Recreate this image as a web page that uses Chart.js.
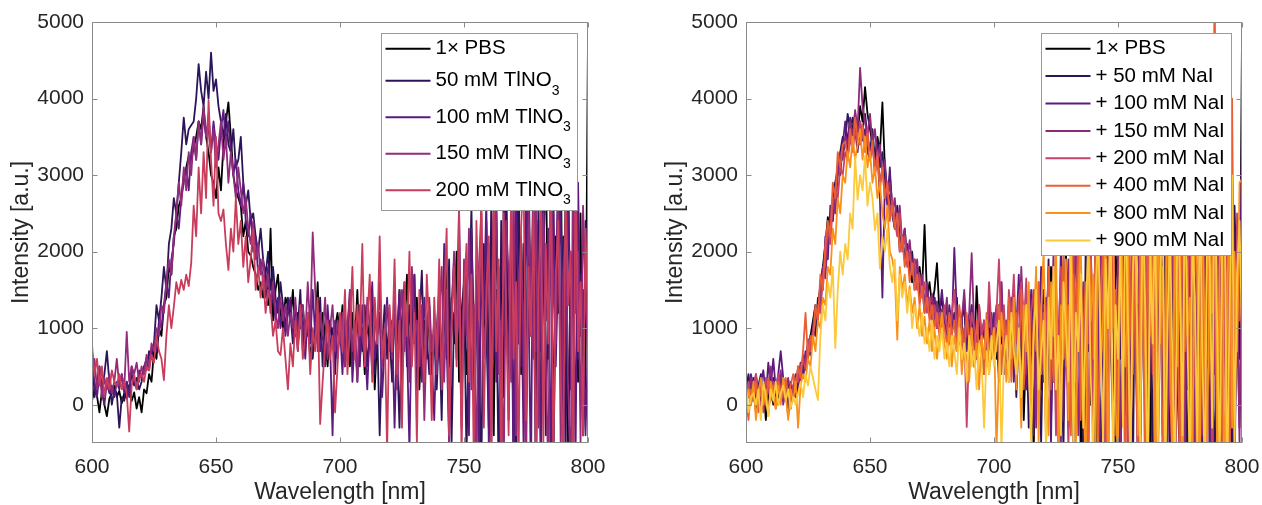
<!DOCTYPE html>
<html>
<head>
<meta charset="utf-8">
<script src="https://cdn.jsdelivr.net/npm/chart.js@4.4.0/dist/chart.umd.min.js"></script>
<style>
  html, body { margin: 0; padding: 0; background: #fff; }
  #wrap { position: relative; width: 1262px; height: 505px; }
  canvas { position: absolute; top: 0; }
  #left { left: 0; }
  #right { left: 631px; }
</style>
</head>
<body>
<div id="wrap">
  <canvas id="left" width="631" height="505"></canvas>
  <canvas id="right" width="631" height="505"></canvas>
</div>
<script>
// wavelength grid (nm), one sample per nm
const wlStart = 600;
const wlStep = 1;
const xTicks = [600, 650, 700, 750, 800];
const yTicks = [0, 1000, 2000, 3000, 4000, 5000];

const leftNames = ['1\u00d7 PBS', '50 mM TlNO_3', '100 mM TlNO_3', '150 mM TlNO_3', '200 mM TlNO_3'];
const leftColors = ['#000000', '#2b1457', '#5c1a7c', '#922b7a', '#c83d5c'];

const rightNames = ['1\u00d7 PBS', '+ 50 mM NaI', '+ 100 mM NaI', '+ 150 mM NaI', '+ 200 mM NaI',
  '+ 400 mM NaI', '+ 800 mM NaI', '+ 900 mM NaI'];
const rightColors = ['#000000', '#2b1457', '#5c1a7c', '#8c2a7a', '#c54268', '#e85e35', '#f8901a', '#fbc93a'];

// left panel: TlNO3
const pbsL = [
  50, 200, 120, -100, 180, 0, -150, 80, 150, 250, 100, 180, 20, 150, 80, 250, 50, 160, -50, 100,
  -100, 200, 150, 400, 300, 700, 600, 1000, 900, 1300, 1400, 1800, 1700, 2200, 2300, 2600, 2700, 3000, 3100, 3250,
  3200, 3350, 3500, 3700, 3600, 3900, 3500, 3300, 3000, 2900, 2700, 3100, 2800, 3400, 3700, 3950, 3500, 3000, 2800, 2700,
  2600, 2200, 2400, 2000, 1950, 1800, 1700, 1500, 1600, 1400, 1700, 1300, 2300, 1100, 1500, 1700, 1200, 1000, 1400, 1300,
  1100, 1500, 900, 1200, 1000, 1300, 800, 1100, 600, 900, 1000, 1600, 700, 1200, 900, 500, 1100, 800, 1000, 1200,
  900, 1300, 700, 1100, 500, 1200, 800, 1500, 600, 1000, 400, 1100, 800, 1300, 200, 900, 1200, 600, 1000, 700,
  1100, 400, 1300, 800, 1500, 300, 1000, 1700, 500, 1200, 800, 1400, 200, 900, 1100, 600, 1300, 400, 1000, 700,
  1300, 200, 1100, 1800, 500, 1400, 800, 2000, 300, 1200, 1600, 400, 1000, 2200, 600, 1400, -200, 1800, 900, 2400,
  500, 1600, -400, 2600, 800, 1900, 100, 2800, 700, 2300, -600, 1700, 3000, 400, 2100, -300, 2600, 900, 3100, 200,
  2400, -800, 1900, 3300, 600, 2700, -500, 2200, 1200, 3400, 100, 2900, -700, 2000, 1500, 3200, 300, 2500, -400, 400,
  4800
];
const tl50 = [
  800, 100, 300, 500, 200, 400, 700, 300, 0, 200, 150, -300, 100, 50, 300, 200, 400, 250, 350, 200,
  300, 500, 450, 700, 600, 800, 1300, 1100, 1400, 1800, 1500, 2100, 2300, 2700, 2500, 2900, 3300, 3750, 3400, 3600,
  3650, 3700, 4000, 4450, 4100, 3900, 4350, 4000, 4600, 4100, 4250, 3900, 3700, 3500, 3800, 3400, 3300, 3600, 3100, 3200,
  3500, 2900, 2600, 2800, 2400, 2500, 2200, 2000, 2300, 1900, 1700, 2000, 1500, 1800, 1400, 1200, 1600, 1300, 1000, 1400,
  1200, 800, 1300, 1000, 1500, 700, 1100, 900, 1300, 600, 1000, 800, 1400, 500, 900, 1200, 700, 1000, 400, 1100,
  800, 1200, 500, 1000, 1400, 600, 900, 300, 1100, 700, 1300, 500, 900, 1200, 400, 1000, -400, 800, 1300, 600,
  1000, 300, 1200, 700, -300, 1100, 1600, 500, 1300, 800, 1700, 200, 1100, 1750, 600, 900, 400, 900, 850, 200,
  1000, -200, 1400, 600, 1900, -500, 1200, 800, 2300, 300, 1600, -700, 1100, 2600, 200, 1800, 700, -900, 2100, 1000,
  -300, 2700, 600, 1500, -1000, 2400, 900, 3000, -200, 1700, 2200, -800, 2900, 500, 1300, -500, 3200, 1000, 2000, -1200,
  2600, 700, 3400, -400, 1800, 2500, -900, 1400, 3100, 400, 2200, -600, 2800, 1100, -1100, 3300, 600, 1700, -300, 2400,
  1900
];
const tl100 = [
  500, 300, 100, 400, 200, 0, 300, 150, 250, 100, 300, 200, 400, 150, 300, 100, 500, 350, 200, 450,
  350, 500, 600, 450, 700, 800, 700, 1100, 1000, 1300, 1600, 1400, 1900, 2100, 2500, 2300, 2700, 2900, 3100, 2800,
  3300, 3500, 3200, 3700, 3400, 3800, 3500, 3600, 3300, 3700, 3400, 3200, 3600, 3850, 3400, 3700, 3300, 3000, 3200, 2800,
  2600, 2900, 2400, 2200, 2500, 2000, 2200, 1700, 1900, 1600, 1400, 1800, 1200, 1500, 1100, 1400, 1000, 1300, 900, 1200,
  1400, 900, 1100, 700, 1300, 1000, 600, 1200, 800, 1500, 900, 1200, 700, 1000, 500, 1300, 800, -400, 1100, 600,
  1000, 400, 1200, 700, 1500, 300, 900, 1100, 500, 1300, 800, 200, 1000, 1600, 600, 900, 1200, 100, 800, 1400,
  700, 1100, -300, 900, 1500, 400, 1200, 800, -600, 1300, 1700, 500, 1000, 300, 1400, 900, 1200, 600, -200, 1000,
  1500, 400, 2100, 800, -500, 1300, 1900, 600, 2600, 0, 1200, 1700, -400, 2300, 900, 1500, -800, 2000, 1100, 2700,
  -600, 1400, 2500, 300, 1800, -900, 2900, 1200, 600, 2200, -1100, 3100, 800, 1900, -500, 2600, 1400, -1000, 3300, 700,
  1600, -700, 2800, 1100, 2300, -1200, 3000, 500, 1800, 2600, -800, 1400, 3200, 200, 2100, -600, 2900, 900, 1500, -400,
  800
];
const tl150 = [
  300, 600, 200, 500, 100, 350, 200, 400, 150, 300, 600, 250, 400, 200, 950, 300, 500, 400, 550, 300,
  500, 400, 650, 500, 800, 700, 1000, 900, 1300, 1200, 1600, 1900, 1700, 2200, 2500, 2900, 2600, 3100, 2800, 3300,
  3000, 3500, 3200, 3700, 3400, 3900, 3500, 3800, 3300, 3600, 3100, 3400, 3700, 3200, 3500, 2900, 3300, 3000, 2700, 3100,
  2800, 2500, 2700, 2300, 2100, 2400, 1900, 2100, 1700, 1900, 1500, 1700, 1300, 1600, 1200, 1000, 1400, 1100, 1300, 900,
  1200, 1000, 1400, 800, 1100, 1300, 900, 1600, 1000, 2250, 1500, 700, 1200, 900, 1400, 600, 1000, 1300, 700, 1100,
  800, 1200, 500, 1000, 1500, 700, 1100, 300, 1300, 900, 600, 1400, 1000, 400, 1200, 800, 1600, 500, 900, 1300,
  1100, 600, 1400, 200, 1000, 1500, 700, 1200, 300, 1800, 900, 1100, 500, 1300, -200, 1000, 1400, 700, 1100, 400,
  1200, 1800, 300, 1500, -500, 1100, 2000, 700, 1400, -300, 1900, 900, 2300, 200, 1300, -900, 1800, 2500, 600, 1200,
  2100, -700, 1600, 2800, 400, 1100, -1000, 2400, 1700, 300, 3000, -400, 1500, 2200, 900, -1100, 2700, 1300, 600, 3200,
  -300, 1900, 2500, 500, -900, 2900, 1500, 800, 3100, -600, 1700, 2400, 200, -1000, 3400, 1200, 2000, -500, 2600, 1400,
  700
];
const tl200 = [
  700, 400, 600, 250, 500, 100, 350, 200, 450, 300, 250, 400, 200, 300, 150, -350, 250, 400, 200, 350,
  400, 300, 500, 450, 650, 550, 900, 700, 600, 320, 900, 1300, 1000, 1280, 1600, 1450, 1630, 1500, 1700, 1550,
  1850, 2600, 2200, 3100, 2500, 3300, 2700, 3980, 3200, 2600, 3500, 2500, 2400, 2550, 2100, 1760, 2300, 2000, 2700, 2100,
  2400, 1800, 2200, 1600, 1900, 2300, 1500, 1800, 1400, 1700, 1200, 1500, 1300, 900, 1100, 700, 650, 1000, 600, 200,
  800, 500, 1100, 700, 1300, 600, 900, 1200, 400, 1000, 700, 1400, -250, 300, 800, 1100, 600, 900, -100, 500,
  1200, 700, 1500, 400, 1000, 1800, 600, 1300, 900, 2100, 500, 1100, 1700, 300, 1400, 800, 2200, 600, 1000, -600,
  1300, 700, 1900, 400, 1100, -300, 1600, 900, 2000, 500, 1200, -500, 1500, 800, 300, 1700, 1000, -200, 1400, 600,
  1900, 200, 1300, 2300, -400, 1000, 1800, 500, 2600, -700, 1400, 2100, 300, 1700, -900, 2400, 1100, 2800, -300, 1500,
  2200, -600, 3000, 700, 1900, -1000, 2500, 1200, -400, 2900, 600, 1600, -800, 2300, 3100, -200, 1800, 900, 2600, -1100,
  1400, 2800, -500, 2100, 800, 3300, -900, 1700, 2400, 300, -700, 2900, 1300, 2000, -1000, 3200, 700, 1600, -400, 2300,
  1000
];

// right panel: NaI
const pbsR = [
  100, 300, 0, 200, -100, 150, 50, 250, -200, 100, 300, 0, 200, 100, 400, 150, 50, 300, -50, 200,
  100, 400, 300, 600, 500, 800, 900, 1100, 1300, 1200, 1600, 1800, 2100, 2450, 2300, 2700, 2900, 3000, 3200, 3300,
  3400, 3500, 3700, 3600, 3800, 3500, 3900, 3700, 4150, 3800, 3600, 3400, 3200, 3500, 3300, 3950, 3100, 2800, 2700, 2500,
  2300, 2400, 2100, 2200, 1900, 2000, 1800, 1600, 1900, 1700, 1800, 1500, 2350, 1400, 1600, 1300, 1500, 1850, 1200, 1400,
  1100, 1300, 900, 1200, 1000, 1400, 800, 1100, 1300, 700, 1000, 1200, 600, 1550, 900, 800, 1100, 700, 1000, 900,
  1100, 600, 1300, 800, 1000, 400, 1200, 700, 1500, 300, 900, 1100, -200, 800, 1400, 500, -600, 1000, 1300, 200,
  1500, -400, 900, 1800, 300, 1200, -700, 1600, 800, 2100, -300, 1000, 1400, 400, 2200, -800, 1300, 700, 1900, 0,
  1600, -1000, 2300, 600, 1400, -600, 2600, 1000, -300, 2000, 1500, -900, 2400, 400, 1800, -1200, 2800, 900, 1300, -700,
  2500, 300, 1700, -1100, 3000, 800, -400, 2200, 1400, -1300, 2900, 600, 1900, -800, 3300, 1100, -500, 2400, 200, 1700,
  -1000, 3100, 900, 2000, -1400, 2700, 500, 1600, -900, 3400, 1200, -600, 2200, 2800, -1100, 1500, 3000, -700, 1800, 600,
  4800
];
const nai50 = [
  200, 400, 100, 350, 0, 250, 400, 100, 300, -100, 200, 350, 150, 0, 300, 100, 250, -150, 200, 100,
  300, 150, 450, 350, 600, 700, 650, 1000, 900, 1400, 1300, 1700, 2000, 2200, 2500, 2400, 2900, 3100, 3300, 3500,
  3450, 3800, 3600, 3750, 3500, 3700, 3400, 3600, 3800, 3500, 3300, 3600, 3200, 3450, 3100, 3300, 2900, 2700, 3000, 2600,
  2400, 2600, 2200, 2100, 2300, 1900, 1800, 2000, 1600, 1700, 1400, 1600, 1300, 1500, 1200, 1100, 1400, 1000, 1200, 900,
  1100, 1300, 800, 1000, 1200, 700, 900, 1100, 600, 1000, 800, 1300, 500, 900, 1100, 700, 400, 1000, 800, 1200,
  600, 1000, 300, 1200, 800, 500, 1300, 700, 1000, 100, 900, 1400, 400, 1100, -300, 800, 1500, 200, 1000, -500,
  1300, 600, 1900, -200, 1100, 1600, 300, 900, -600, 1800, 1200, 200, 2000, -400, 1000, 1500, -900, 2200, 700, 1300,
  -500, 2400, 800, -800, 1700, 2100, 0, 1200, 2600, -1100, 1400, 600, 2800, -300, 1900, 1000, -1000, 2500, 400, 1600,
  2900, -700, 1100, 2300, -1200, 3100, 700, 1800, -400, 2600, 1300, -1000, 2100, 3200, 200, -800, 2700, 1500, -1300, 2400,
  900, 3300, -600, 1700, 2500, -1100, 1000, 3000, 400, -900, 2300, 1600, -500, 3100, 800, 2000, -1200, 2600, 1300, -300,
  1200
];
const nai100 = [
  300, 100, 400, 200, 350, 50, 300, 450, 100, 550, 250, 600, 200, 400, 700, 350, 250, 0, 300, 150,
  400, 250, 550, 400, 700, 600, 900, 850, 1200, 1100, 1600, 1500, 2200, 1900, 2600, 2400, 2800, 3100, 3000, 3400,
  3700, 3300, 3750, 3500, 3600, 3300, 3700, 3450, 3600, 3300, 3200, 3500, 3000, 3300, 2700, 1400, 2900, 2600, 3100, 2500,
  2300, 2500, 2000, 2200, 1900, 2100, 1700, 1900, 1500, 1800, 1400, 1600, 1200, 1500, 1300, 1100, 1400, 1000, 1200, 1500,
  1100, 900, 1300, 1000, 2050, 1200, 800, 1100, 1400, 700, 1000, 1300, 900, 600, 1200, 800, 1000, 500, 1300, 900,
  1200, 700, 1000, 1600, 400, 1100, 800, 1400, 300, 1000, 1700, 600, 1200, 200, 900, 1500, -400, 1100, 700, 1800,
  300, 1400, 900, -500, 1700, 1100, 500, 2100, -200, 1300, 800, 1900, -700, 1200, 2300, 400, 1000, -600, 1800, 1400,
  200, 2500, 900, -900, 1600, 2200, -300, 1300, 2700, 500, -800, 1900, 1200, 2900, -500, 1500, 700, 2400, -1100, 1700,
  3000, 400, -700, 2300, 1400, -1200, 2800, 900, 1800, -400, 3200, 600, -1000, 2500, 1600, 300, -1300, 2900, 1100, 2000,
  -800, 3300, 700, 1500, -600, 2600, 2100, -1100, 3100, 400, 1800, -900, 2700, 1300, -400, 3400, 800, -1200, 2300, 1500,
  3500
];
const nai150 = [
  0, 200, 350, 100, 400, 200, -100, 300, 150, 250, 500, 100, 300, 200, 450, 0, 200, 350, 100, 250,
  200, 500, 300, 650, 550, 800, 700, 1000, 1300, 1150, 1500, 1800, 1650, 2200, 2400, 2700, 2500, 3000, 3300, 3200,
  3500, 3400, 3700, 3500, 3850, 3600, 4400, 3900, 3700, 3500, 3800, 3400, 3600, 3200, 3400, 3000, 3200, 2700, 2900, 2500,
  2700, 2300, 2600, 2100, 2300, 1900, 2150, 1800, 1650, 1900, 1500, 1700, 1300, 1600, 1200, 1450, 1100, 1350, 1000, 1250,
  1100, 1400, 900, 1200, 1000, 1300, 800, 1100, 1500, 900, 1200, 1980, 1000, 700, 1300, 900, 1100, 600, 1400, 800,
  1000, 1300, 500, 1600, 800, 1100, 300, 1400, 900, 1200, 600, 1800, 1000, 400, 1500, 700, 1200, -300, 1600, 900,
  1300, -100, 1700, 800, 2000, 400, 1100, -500, 1500, 900, 1900, 100, 1300, 2200, -400, 1000, 1600, 600, -800, 2000,
  1100, 1700, -300, 2300, 700, 1400, -900, 2600, 1000, 300, 2100, -600, 1500, 2800, 600, -1000, 1900, 1200, 3000, -400,
  1600, 2400, -900, 1000, 2900, 300, -1200, 2200, 1500, 3100, -500, 1300, 2600, -1000, 800, 3300, 1700, -700, 2400, 900,
  2900, -1100, 1500, 2100, -400, 3200, 600, 1900, -1300, 2500, 1100, 3400, -700, 1700, 2300, -1000, 2800, 400, 1600, -500,
  2600
];
const nai200 = [
  150, 300, 50, 250, 400, 100, 200, -100, 350, 200, 50, 300, 150, 400, 200, 100, 300, 200, 0, 250,
  350, 300, 500, 600, 450, 850, 700, 950, 1100, 1300, 1200, 1700, 1900, 2300, 2100, 2600, 2800, 2700, 3100, 3000,
  3300, 3200, 3500, 3300, 3600, 3400, 3700, 3500, 3400, 3600, 3200, 3400, 3100, 3300, 2900, 3100, 2700, 2900, 2500, 2700,
  2400, 2200, 2500, 2000, 2200, 1800, 2000, 1700, 1900, 1500, 1700, 1400, 1600, 1200, 1400, 1100, 1300, 1000, 1200, 900,
  1300, 1000, 800, 1200, 1500, 900, 1100, 700, 1000, -290, 800, 1200, 1000, 600, 1300, 900, 1100, 700, 1600, 1000,
  800, 1200, 1900, 900, 1300, 600, 1500, 1100, 1700, 800, 1400, 1600, 1000, 1650, 500, 1200, 1500, 800, 1100, 1300,
  400, 1000, 1700, 200, 1300, -400, 900, 1800, 600, 1200, -600, 1500, 2100, 300, 1000, 1700, -300, 1400, 800, 2000,
  -700, 1200, 2400, 500, 1600, -900, 2000, 900, 2700, -400, 1300, 1800, 200, 2500, -1100, 1400, 2900, 600, -600, 2100,
  1100, 2800, -900, 1700, 400, 3000, -1200, 2300, 1000, -500, 2700, 1500, 3200, -800, 1200, 2400, -1300, 1900, 700, 3100,
  -600, 2200, 1300, -1000, 2800, 500, 1800, 3300, -900, 1400, 2600, -400, 2000, 900, -1200, 3000, 1600, -700, 2500, 1100,
  1500
];
const nai400 = [
  100, -200, 200, 50, 300, -100, 250, 150, 0, 350, 100, 250, -50, 300, 150, 200, 350, 100, 250, 400,
  200, 500, 350, 700, 1200, 600, 900, 800, 1300, 1100, 1700, 1500, 2100, 2400, 2200, 2900, 2700, 3300, 3100, 3400,
  3440, 3200, 3600, 3300, 3750, 3500, 3400, 3650, 3300, 3550, 3200, 3450, 3000, 3250, 2800, 3100, 2700, 2900, 2400, 2600,
  2300, 2500, 2000, 2200, 1800, 2000, 1600, 1850, 1500, 1700, 1300, 1550, 1200, 1400, 1100, 1300, 1000, 1200, 900, 1150,
  1000, 800, 1200, 900, 1100, 700, 1300, 1000, 600, 1200, 800, 1000, 500, 1100, 700, 900, 400, 1200, 800, 600,
  1000, 700, 1300, 400, 1100, 800, 1400, 300, 1000, 1200, 600, 1500, 200, 900, 1300, -300, 1100, 700, 1600, 400,
  1200, -500, 1800, 900, 300, 1500, -800, 1100, 2000, 500, 1300, -400, 1700, 900, 2300, -200, 1000, 1600, -900, 1900,
  600, 2400, -600, 1300, 2100, 300, -1000, 2700, 1000, 1500, -300, 2300, 800, -1100, 2900, 1200, 400, 2000, -700, 2600,
  1400, -1200, 2200, 900, 3000, -500, 1600, 2500, -1000, 1100, 3200, 200, -800, 2400, 1700, -1300, 2900, 700, 1900, -400,
  3100, 1000, -1100, 2300, 1500, -700, 2800, 600, 2000, 5600, -1200, 1400, -500, 2600, 1100, -1000, 4000, 300, 800, 2100,
  1700
];
const nai800 = [
  -100, 200, 0, 300, -200, 150, 350, 0, 200, -150, 300, 100, -50, 250, 0, 350, 150, -200, 200, 50,
  300, -300, 250, 400, 300, 600, 500, 900, 700, 1100, 1000, 1400, 1300, 1800, 1700, 2300, 2100, 2700, 2500, 3000,
  2900, 3300, 3100, 3500, 3200, 3400, 3600, 3200, 3500, 3100, 3300, 2900, 3100, 2700, 2900, 2500, 2300, 2600, 2000, 1900,
  1700, 850, 1800, 1500, 1700, 1300, 1550, 1200, 1400, 1000, 1300, 900, 1150, 800, 1100, 700, 1000, 600, 900, 1200,
  800, 600, 1000, 500, 900, 700, 1100, 400, 800, 600, 300, 1000, 500, 800, 200, 900, 600, 1100, 400, 700,
  1000, -600, 500, 1200, 800, 300, 1100, 600, 1400, 200, 900, -300, 1300, 700, 1600, 100, 1000, 1800, -500, 1200,
  2000, 500, -400, 1600, 900, 2200, -800, 1300, 600, 1900, -200, 2500, 1000, -600, 1500, 2100, 200, -900, 2400, 1100,
  1700, -500, 2800, 400, 1200, 2300, -1000, 1600, 2600, 0, -700, 3000, 1300, 500, 2200, -1200, 1900, 2700, -400, 1000,
  3100, 300, -900, 2400, 1500, -1300, 2900, 800, 1800, -600, 3200, 1100, -1000, 2500, 500, 2000, -1200, 3300, 900, 1400,
  -800, 2700, 1700, -1100, 3000, 600, -500, 2300, 1200, 3400, -900, 1800, 2500, -1200, 1100, 3100, -300, 2000, 700, 2900,
  2950
];
const nai900 = [
  250, -100, 100, 150, 0, 200, -200, 300, 100, -150, 200, 50, 300, 0, 150, 250, 50, 200, -50, 100,
  0, 150, 300, 100, 400, 250, 500, 350, 200, 60, 900, 1300, 1100, 1600, 1400, 1800, 740, 1500, 2000, 1700,
  2100, 1900, 2500, 2300, 3240, 2680, 3000, 2800, 3250, 2600, 2900, 2700, 2280, 2500, 1780, 2200, 2000, 2300, 1800, 1600,
  1900, 1100, 1700, 1400, 1600, 1200, 1500, 1000, 1300, 1100, 900, 1200, 800, 1000, 700, 1100, 600, 900, 700, 1000,
  600, 800, 500, 900, 700, 400, 1000, 600, 800, 300, 900, 500, 700, 200, 800, 600, -300, 700, 400, 900,
  500, 800, 1100, -600, 600, 900, 300, 1200, 700, 400, 1000, 100, 800, 1300, 500, -500, 900, 1500, 200, 700,
  1100, -700, 1400, 600, 1800, 200, 900, -400, 1600, 1000, 300, 2000, -600, 1200, 700, 1700, -300, 1100, 2200, 400,
  -800, 1500, 2300, 800, -500, 1900, 1000, 2600, -1000, 1300, 600, 2100, -300, 2800, 1100, -900, 1700, 2400, 500, -600,
  2900, 1200, -1100, 2000, 800, 2600, -700, 1500, 3000, -1200, 1100, 2300, 400, -900, 2700, 1600, -400, 3100, 900, -1100,
  2200, 1400, -600, 2900, 700, -1000, 2500, 1800, -300, 3200, 1000, -800, 2100, 2700, -1200, 1300, 3000, -500, 1700, 2400,
  900
];

const leftSeries = [pbsL, tl50, tl100, tl150, tl200];
const rightSeries = [pbsR, nai50, nai100, nai150, nai200, nai400, nai800, nai900];

const FONT = '"Liberation Sans", Arial, Helvetica, sans-serif';
const INK = '#262626';

// axes box with inward ticks, plus the boxed legend inside the plot
const boxLegend = {
    id: 'boxLegend',
    afterDraw(chart, args, o) {
        const { ctx, chartArea: a, scales: { x, y } } = chart;
        ctx.save();

        ctx.strokeStyle = '#8a8a8a';
        ctx.lineWidth = 1;
        const L = Math.round(a.left) + 0.5, R = Math.round(a.right) - 0.5;
        const T = Math.round(a.top) + 0.5, B = Math.round(a.bottom) - 0.5;
        ctx.strokeRect(L, T, R - L, B - T);
        ctx.beginPath();
        xTicks.forEach(v => {
            const px = Math.round(x.getPixelForValue(v)) + 0.5;
            ctx.moveTo(px, B); ctx.lineTo(px, B - 5);
            ctx.moveTo(px, T); ctx.lineTo(px, T + 5);
        });
        yTicks.forEach(v => {
            const py = Math.round(y.getPixelForValue(v)) + 0.5;
            ctx.moveTo(L, py); ctx.lineTo(L + 5, py);
            ctx.moveTo(R, py); ctx.lineTo(R - 5, py);
        });
        ctx.stroke();

        // legend
        const mainFont = '20.5px ' + FONT, subFont = '14px ' + FONT;
        const items = o.names.map(s => {
            const [t, sb] = s.split('_');
            return { t, sb };
        });
        const widths = items.map(it => {
            ctx.font = mainFont;
            let w = ctx.measureText(it.t).width;
            if (it.sb) { ctx.font = subFont; w += ctx.measureText(it.sb).width; }
            return w;
        });
        const heights = items.map(it => it.sb ? o.subRow : o.row);
        const bw = Math.round(4 + o.swatch + 5 + Math.max(...widths) + 7);
        const bh = Math.round(heights.reduce((p, c) => p + c, 0) + 3);
        const bx = Math.round(a.right - 11 - bw) + 0.5, by = Math.round(a.top + 11) + 0.5;
        ctx.fillStyle = '#fff';
        ctx.fillRect(bx, by, bw, bh);
        ctx.strokeStyle = '#9a9a9a';
        ctx.strokeRect(bx, by, bw, bh);

        let cy = by + 1.5;
        items.forEach((it, i) => {
            const yc = cy + heights[i] / 2;
            ctx.strokeStyle = o.colors[i];
            ctx.lineWidth = 2;
            ctx.beginPath();
            ctx.moveTo(bx + 4, yc);
            ctx.lineTo(bx + 4 + o.swatch, yc);
            ctx.stroke();
            ctx.fillStyle = '#000';
            ctx.textBaseline = 'middle';
            ctx.textAlign = 'left';
            ctx.font = mainFont;
            const tx = bx + 4 + o.swatch + 5;
            ctx.fillText(it.t, tx, yc);
            if (it.sb) {
                const w = ctx.measureText(it.t).width;
                ctx.font = subFont;
                ctx.fillText(it.sb, tx + w, yc + 10);
            }
            cy += heights[i];
        });
        ctx.restore();
    }
};

// keep the plot box where the reference has it, whatever the tick labels need
function fixX(s) {
    s.height = 62;
    s.paddingLeft = 0;
    s.paddingRight = 0;
}
function fixY(s) {
    s.width = 92;
    s.paddingTop = 0;
    s.paddingBottom = 0;
}

function makeChart(canvasId, names, colors, seriesList, padLeft, padRight, rows) {
    const n = Math.max(...seriesList.map(s => s.length));
    const wavelength = Array.from({ length: n }, (_, k) => wlStart + k * wlStep);
    const datasets = seriesList.map((vals, i) => ({
        label: names[i],
        data: vals.map((v, k) => ({ x: wavelength[k], y: v })),
        borderColor: colors[i],
        borderWidth: 1.8,
        borderJoinStyle: 'round',
        pointRadius: 0,
        tension: 0,
        fill: false,
        clip: 0,
        order: seriesList.length - i
    }));

    return new Chart(document.getElementById(canvasId), {
        type: 'line',
        data: { datasets },
        options: {
            responsive: false,
            animation: false,
            devicePixelRatio: 1,
            layout: { padding: { left: padLeft, right: padRight, top: 22, bottom: 0 } },
            plugins: {
                legend: { display: false },
                tooltip: { enabled: false },
                boxLegend: { names, colors, swatch: 45, row: rows.row, subRow: rows.subRow }
            },
            scales: {
                x: {
                    type: 'linear',
                    min: 600,
                    max: 800,
                    afterBuildTicks: s => { s.ticks = xTicks.map(v => ({ value: v })); },
                    afterFit: fixX,
                    grid: { display: false, drawTicks: false },
                    border: { display: false },
                    ticks: {
                        color: INK,
                        font: { family: FONT, size: 21 },
                        padding: 12,
                        maxRotation: 0,
                        callback: v => String(v)
                    },
                    title: {
                        display: true,
                        text: 'Wavelength [nm]',
                        color: INK,
                        font: { family: FONT, size: 23 },
                        padding: { top: 0, bottom: -1 }
                    }
                },
                y: {
                    type: 'linear',
                    min: -500,
                    max: 5000,
                    afterBuildTicks: s => { s.ticks = yTicks.map(v => ({ value: v })); },
                    afterFit: fixY,
                    grid: { display: false, drawTicks: false },
                    border: { display: false },
                    ticks: {
                        color: INK,
                        font: { family: FONT, size: 21 },
                        padding: 8,
                        callback: v => String(v)
                    },
                    title: {
                        display: true,
                        text: 'Intensity [a.u.]',
                        color: INK,
                        font: { family: FONT, size: 23 },
                        padding: { top: 8, bottom: 0 }
                    }
                }
            }
        },
        plugins: [boxLegend]
    });
}

makeChart('left', leftNames, leftColors, leftSeries, 0, 43, { row: 27.5, subRow: 36.5 });
makeChart('right', rightNames, rightColors, rightSeries, 23, 20, { row: 27.4, subRow: 27.4 });
</script>
</body>
</html>
